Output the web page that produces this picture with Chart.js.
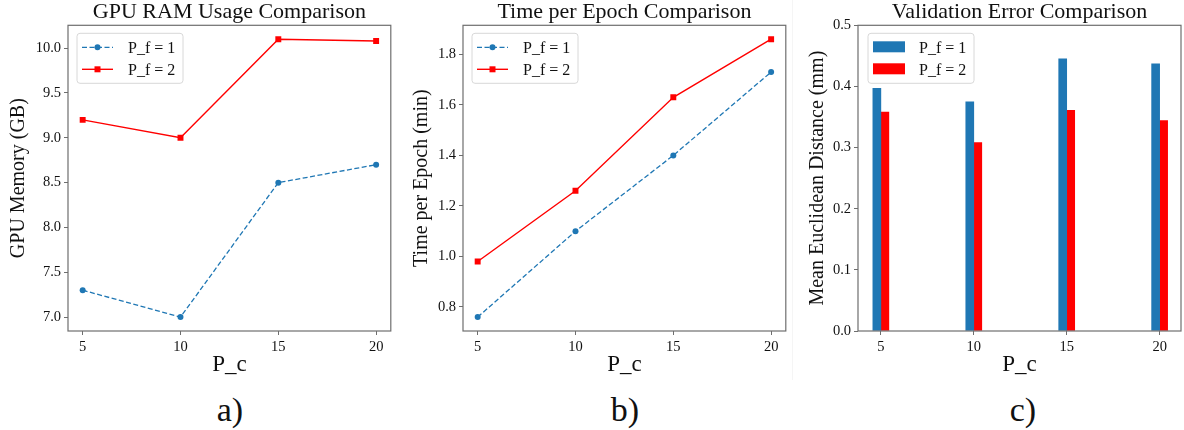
<!DOCTYPE html>
<html>
<head>
<meta charset="utf-8">
<script src="https://cdn.jsdelivr.net/npm/chart.js@4.4.1/dist/chart.umd.min.js"></script>
<style>
  html, body { margin: 0; padding: 0; background: #fff; }
  body { width: 1184px; height: 430px; position: relative; overflow: hidden;
         font-family: "Liberation Serif", "DejaVu Serif", serif; }
  .panel { position: absolute; top: 0; }
  .tag { position: absolute; top: 390px; width: 60px; margin-left: -30px; text-align: center;
         font-size: 34px; line-height: 40px; color: #111; }
  .edge { position: absolute; left: 792px; top: 0; width: 1px; height: 380px; background: #f5f5f5; }
</style>
</head>
<body>
<div class="panel" style="left:0"><canvas id="chartA" width="395" height="380"></canvas></div>
<div class="panel" style="left:395px"><canvas id="chartB" width="395" height="380"></canvas></div>
<div class="edge"></div>
<div class="panel" style="left:790px"><canvas id="chartC" width="394" height="380"></canvas></div>
<div class="tag" style="left:230px">a)</div>
<div class="tag" style="left:625px">b)</div>
<div class="tag" style="left:1023px">c)</div>
<script>
// three panels: GPU RAM, time per epoch, validation error vs P_c

const FONT = '"Liberation Serif", "DejaVu Serif", serif';
const BLUE = '#1f77b4';
const RED  = '#ff0000';

const PC       = [5, 10, 15, 20];
const SERIES   = ['P_f = 1', 'P_f = 2'];

const GPU_PF1  = [7.3, 7.0, 8.5, 8.7];
const GPU_PF2  = [9.2, 9.0, 10.1, 10.08];
const TIME_PF1 = [0.76, 1.10, 1.40, 1.73];
const TIME_PF2 = [0.98, 1.26, 1.63, 1.86];
const ERR_PF1  = [0.397, 0.375, 0.445, 0.437];
const ERR_PF2  = [0.358, 0.308, 0.361, 0.344];

const GPU_TICKS  = [7.0, 7.5, 8.0, 8.5, 9.0, 9.5, 10.0];
const TIME_TICKS = [0.8, 1.0, 1.2, 1.4, 1.6, 1.8];
const ERR_TICKS  = [0.0, 0.1, 0.2, 0.3, 0.4, 0.5];

const toXY = ys => PC.map((x, i) => ({ x, y: ys[i] }));

// full box around the plot area, like matplotlib spines
const framePlugin = {
  id: 'frame',
  afterDatasetsDraw(chart) {
    const { ctx, chartArea: a } = chart;
    ctx.save();
    ctx.strokeStyle = '#6e6e6e';
    ctx.lineWidth = 1.2;
    ctx.strokeRect(a.left, a.top, a.right - a.left, a.bottom - a.top);
    ctx.restore();
  },
};

// legend drawn inside the plot area, upper left
const insetLegend = {
  id: 'insetLegend',
  afterDraw(chart, args, opts) {
    const { ctx, chartArea: a } = chart;
    const x0 = a.left + opts.dx;
    const y0 = a.top + 8;
    ctx.save();
    ctx.beginPath();
    ctx.roundRect(x0, y0, 106, 50, 3);
    ctx.fillStyle = 'rgba(255,255,255,0.85)';
    ctx.fill();
    ctx.strokeStyle = '#d8d8d8';
    ctx.lineWidth = 1;
    ctx.stroke();

    chart.data.datasets.forEach((ds, i) => {
      const y = a.top + 22 + i * 22;
      if (opts.patch) {
        ctx.fillStyle = ds.backgroundColor;
        ctx.fillRect(x0 + 5, y - 6, 32, 11);
      } else {
        ctx.strokeStyle = ds.borderColor;
        ctx.lineWidth   = ds.borderWidth;
        ctx.setLineDash(ds.borderDash || []);
        ctx.beginPath();
        ctx.moveTo(x0 + 5, y);
        ctx.lineTo(x0 + 36, y);
        ctx.stroke();
        ctx.setLineDash([]);
        ctx.fillStyle = ds.borderColor;
        ctx.beginPath();
        if (ds.pointStyle === 'rect') {
          ctx.rect(x0 + 17.5, y - 3, 6, 6);
        } else {
          ctx.arc(x0 + 20.5, y, 3, 0, Math.PI * 2);
        }
        ctx.fill();
      }
      ctx.fillStyle = '#111';
      ctx.font = `16px ${FONT}`;
      ctx.textBaseline = 'middle';
      ctx.fillText(ds.label, x0 + 51, y + 1);
    });
    ctx.restore();
  },
};

function makeChart(id, type, datasets, o) {
  const ctx = document.getElementById(id).getContext('2d');
  return new Chart(ctx, {
    type,
    data: { datasets },
    plugins: [framePlugin, insetLegend],
    options: {
      responsive: false,
      animation:  false,
      layout: { padding: { left: o.padLeft, right: o.padRight, top: 0, bottom: 0 } },
      plugins: {
        legend:  { display: false },
        tooltip: { enabled: false },
        title: {
          display: true,
          text: o.title,
          fullSize: false,
          color: '#111',
          padding: 0,
          font: { family: FONT, size: 22, weight: 'normal', lineHeight: 1.15 },
        },
        insetLegend: { dx: o.legendDx, patch: o.patch },
      },
      scales: {
        x: {
          type: 'linear',
          min: o.xMin,
          max: o.xMax,
          offset: false,
          afterBuildTicks: s => { s.ticks = PC.map(v => ({ value: v })); },
          afterFit: s => { s.height = 49; },
          ticks: {
            color: '#111', padding: 3, maxRotation: 0, autoSkip: false,
            font: { family: FONT, size: 14.5 },
            callback: v => String(v),
          },
          grid:   { drawOnChartArea: false, drawTicks: true, tickLength: 4, color: '#6e6e6e', offset: false },
          border: { display: false },
          title: {
            display: true, text: 'P_c', color: '#111',
            font: { family: FONT, size: 23 },
            padding: { top: 0, bottom: 1 },
          },
        },
        y: {
          min: o.yMin,
          max: o.yMax,
          afterBuildTicks: s => { s.ticks = o.yTicks.map(v => ({ value: v })); },
          afterFit: s => { s.width = 68 - o.padLeft; },
          ticks: {
            color: '#111', padding: 3,
            font: { family: FONT, size: 14.5 },
            callback: v => Number(v).toFixed(1),
          },
          grid:   { drawOnChartArea: false, drawTicks: true, tickLength: 4, color: '#6e6e6e' },
          border: { display: false },
          title: {
            display: true, text: o.yTitle, color: '#111',
            font: { family: FONT, size: 20 },
            padding: 0,
          },
        },
      },
    },
  });
}

function lineSets(a, b) {
  return [
    {
      label: SERIES[0], data: toXY(a),
      borderColor: BLUE, backgroundColor: BLUE, borderWidth: 1.3, borderDash: [5, 2.5],
      pointStyle: 'circle', pointRadius: 3, pointBackgroundColor: BLUE, pointBorderWidth: 0,
      tension: 0,
    },
    {
      label: SERIES[1], data: toXY(b),
      borderColor: RED, backgroundColor: RED, borderWidth: 1.4,
      pointStyle: 'rect', pointRadius: 4.2, pointBackgroundColor: RED, pointBorderWidth: 0,
      tension: 0,
    },
  ];
}

makeChart('chartA', 'line', lineSets(GPU_PF1, GPU_PF2), {
  title: 'GPU RAM Usage Comparison', yTitle: 'GPU Memory (GB)',
  xMin: 4.25, xMax: 20.75, yMin: 6.845, yMax: 10.255, yTicks: GPU_TICKS,
  padLeft: 7, padRight: 4, legendDx: 9, patch: false,
});

makeChart('chartB', 'line', lineSets(TIME_PF1, TIME_PF2), {
  title: 'Time per Epoch Comparison', yTitle: 'Time per Epoch (min)',
  xMin: 4.25, xMax: 20.75, yMin: 0.705, yMax: 1.915, yTicks: TIME_TICKS,
  padLeft: 15, padRight: 4, legendDx: 9, patch: false,
});

makeChart('chartC', 'bar', [
  { label: SERIES[0], data: toXY(ERR_PF1), backgroundColor: BLUE, barThickness: 8, borderWidth: 0 },
  { label: SERIES[1], data: toXY(ERR_PF2), backgroundColor: RED,  barThickness: 8, borderWidth: 0 },
], {
  title: 'Validation Error Comparison', yTitle: 'Mean Euclidean Distance (mm)',
  xMin: 3.77, xMax: 21.15, yMin: 0, yMax: 0.5, yTicks: ERR_TICKS,
  padLeft: 16, padRight: 3, legendDx: 10, patch: true,
});
</script>
</body>
</html>
